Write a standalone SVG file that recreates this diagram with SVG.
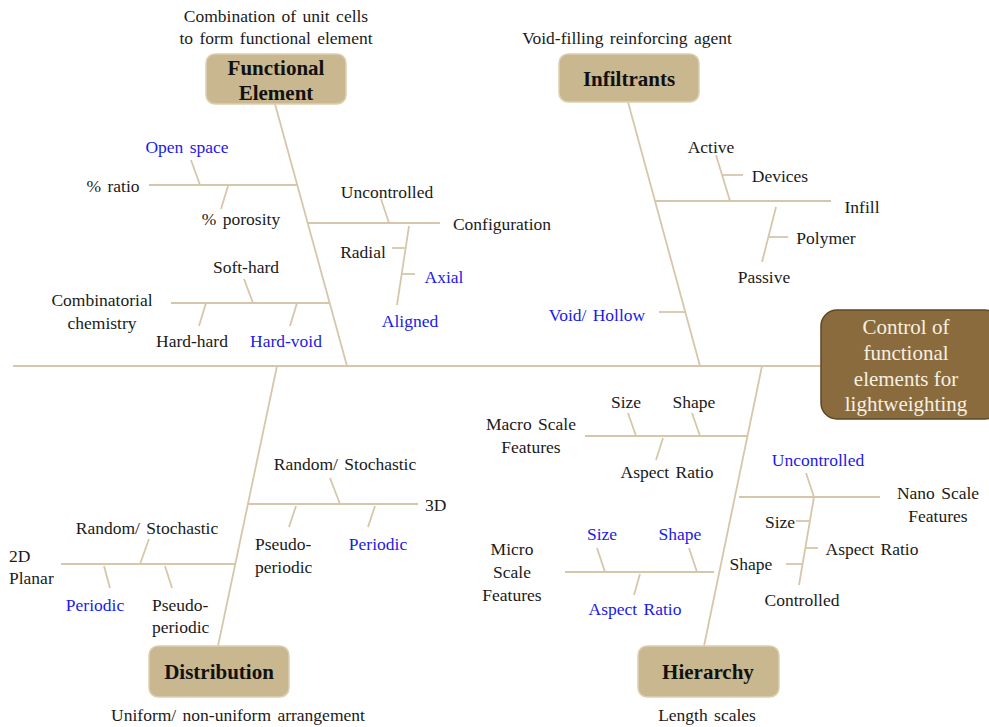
<svg xmlns="http://www.w3.org/2000/svg" width="989" height="727" viewBox="0 0 989 727">
<style>
text{font-family:"Liberation Serif","Times New Roman",serif;font-size:17.5px;fill:#1a1a1a;text-anchor:middle;word-spacing:2px}
.b{fill:#1a1ae8}
.l{text-anchor:start}
.cat{fill:#c8b78f;stroke:#ddd0b2;stroke-width:1.5}
.ct{font-size:21px;font-weight:bold;fill:#111}
.eff{fill:#8a6b3e;stroke:#5e4724;stroke-width:1.5}
.et{font-size:21px;fill:#f6f0e2;word-spacing:0}
#connectors line{stroke:#d6c7ab;stroke-width:1.8;fill:none}
</style>
<rect width="989" height="727" fill="#ffffff"/>
<g id="connectors">
<line x1="13" y1="366" x2="822" y2="366"/>
<line x1="275" y1="104" x2="347" y2="366"/>
<line x1="628" y1="102" x2="700" y2="366"/>
<line x1="277" y1="366" x2="218" y2="646"/>
<line x1="762" y1="366" x2="704" y2="646"/>
<line x1="149" y1="185" x2="297" y2="185"/>
<line x1="191" y1="160" x2="200" y2="185"/>
<line x1="228" y1="186" x2="221" y2="209"/>
<line x1="171" y1="303" x2="329" y2="303"/>
<line x1="244" y1="279" x2="253" y2="303"/>
<line x1="206" y1="303" x2="199" y2="326"/>
<line x1="297" y1="303" x2="290" y2="326"/>
<line x1="308" y1="223" x2="440" y2="223"/>
<line x1="381" y1="199" x2="389" y2="223"/>
<line x1="409" y1="226" x2="397" y2="305"/>
<line x1="392" y1="248" x2="405" y2="248"/>
<line x1="402" y1="274" x2="415" y2="274"/>
<line x1="655" y1="201" x2="831" y2="201"/>
<line x1="716" y1="155" x2="730" y2="201"/>
<line x1="722" y1="175" x2="743" y2="175"/>
<line x1="776" y1="207" x2="762" y2="262"/>
<line x1="768" y1="237" x2="788" y2="237"/>
<line x1="659" y1="312" x2="686" y2="312"/>
<line x1="248" y1="504" x2="418" y2="504"/>
<line x1="330" y1="478" x2="340" y2="504"/>
<line x1="296" y1="506" x2="289" y2="527"/>
<line x1="375" y1="506" x2="368" y2="527"/>
<line x1="61" y1="564" x2="235" y2="564"/>
<line x1="149" y1="539" x2="140" y2="564"/>
<line x1="104" y1="566" x2="110" y2="588"/>
<line x1="165" y1="566" x2="172" y2="588"/>
<line x1="585" y1="436" x2="747" y2="436"/>
<line x1="628" y1="413" x2="636" y2="436"/>
<line x1="692" y1="413" x2="700" y2="436"/>
<line x1="663" y1="438" x2="656" y2="460"/>
<line x1="565" y1="572" x2="714" y2="572"/>
<line x1="597" y1="548" x2="605" y2="572"/>
<line x1="689" y1="548" x2="697" y2="572"/>
<line x1="640" y1="574" x2="634" y2="595"/>
<line x1="739" y1="497" x2="880" y2="497"/>
<line x1="806" y1="473" x2="814" y2="497"/>
<line x1="814" y1="497" x2="799" y2="585"/>
<line x1="796" y1="521" x2="810" y2="521"/>
<line x1="805" y1="548" x2="818" y2="548"/>
<line x1="786" y1="564" x2="803" y2="564"/>
</g>
<g id="effect">
<rect class="eff" x="821" y="310" width="180" height="109" rx="16"/>
<text class="et" x="906" y="334">Control of</text>
<text class="et" x="906" y="360">functional</text>
<text class="et" x="906" y="386">elements for</text>
<text class="et" x="906" y="411">lightweighting</text>
</g>
<g id="functional-element">
<text x="276" y="22">Combination of unit cells</text>
<text x="276" y="44">to form functional element</text>
<rect class="cat" x="206" y="54" width="140" height="50" rx="9"/>
<text class="ct" x="276" y="75">Functional</text>
<text class="ct" x="276" y="100">Element</text>
</g>
<g id="infiltrants">
<text x="627" y="44">Void-filling reinforcing agent</text>
<rect class="cat" x="559" y="54" width="140" height="48" rx="9"/>
<text class="ct" x="629" y="86">Infiltrants</text>
</g>
<g id="distribution">
<rect class="cat" x="149" y="646" width="140" height="51" rx="9"/>
<text class="ct" x="219" y="679">Distribution</text>
<text x="238" y="721">Uniform/ non-uniform arrangement</text>
</g>
<g id="hierarchy">
<rect class="cat" x="638" y="646" width="141" height="51" rx="9"/>
<text class="ct" x="708" y="679">Hierarchy</text>
<text x="707" y="721">Length scales</text>
</g>
<g id="fe-labels">
<text class="b" x="187" y="153">Open space</text>
<text x="113" y="192">% ratio</text>
<text x="241" y="225">% porosity</text>
<text x="387" y="198">Uncontrolled</text>
<text x="502" y="230">Configuration</text>
<text x="363" y="258">Radial</text>
<text class="b" x="444" y="283">Axial</text>
<text class="b" x="410" y="327">Aligned</text>
<text x="246" y="273">Soft-hard</text>
<text x="102" y="306">Combinatorial</text>
<text x="102" y="329">chemistry</text>
<text x="192" y="347">Hard-hard</text>
<text class="b" x="286" y="347">Hard-void</text>
</g>
<g id="inf-labels">
<text x="711" y="153">Active</text>
<text x="780" y="182">Devices</text>
<text x="862" y="213">Infill</text>
<text x="826" y="244">Polymer</text>
<text x="764" y="283">Passive</text>
<text class="b" x="597" y="321">Void/ Hollow</text>
</g>
<g id="dist-labels">
<text x="345" y="470">Random/ Stochastic</text>
<text class="l" x="425" y="511">3D</text>
<text class="l" x="255" y="550">Pseudo-</text>
<text class="l" x="255" y="573">periodic</text>
<text class="b" x="378" y="550">Periodic</text>
<text class="l" x="9" y="562">2D</text>
<text class="l" x="9" y="584">Planar</text>
<text x="147" y="534">Random/ Stochastic</text>
<text class="b" x="95" y="611">Periodic</text>
<text class="l" x="152" y="611">Pseudo-</text>
<text class="l" x="152" y="633">periodic</text>
</g>
<g id="hier-labels">
<text x="626" y="408">Size</text>
<text x="694" y="408">Shape</text>
<text x="531" y="430">Macro Scale</text>
<text x="531" y="453">Features</text>
<text x="667" y="478">Aspect Ratio</text>
<text class="b" x="818" y="466">Uncontrolled</text>
<text x="938" y="499">Nano Scale</text>
<text x="938" y="522">Features</text>
<text x="780" y="528">Size</text>
<text x="872" y="555">Aspect Ratio</text>
<text x="751" y="570">Shape</text>
<text x="802" y="606">Controlled</text>
<text x="512" y="555">Micro</text>
<text x="512" y="578">Scale</text>
<text x="512" y="601">Features</text>
<text class="b" x="602" y="540">Size</text>
<text class="b" x="680" y="540">Shape</text>
<text class="b" x="635" y="615">Aspect Ratio</text>
</g>
</svg>
